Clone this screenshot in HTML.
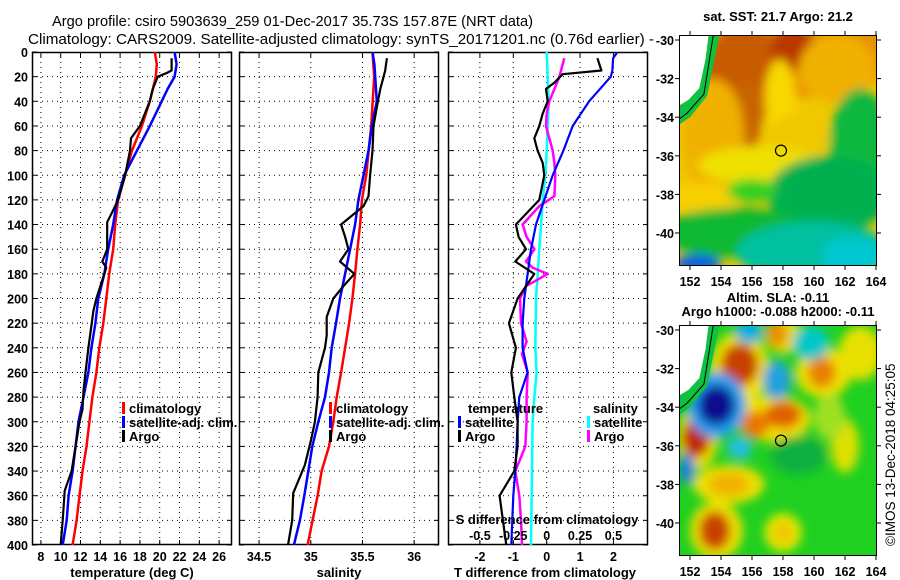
<!DOCTYPE html>
<html><head><meta charset="utf-8"><style>
html,body{margin:0;padding:0;background:#fff;}
svg{display:block;font-family:"Liberation Sans",Arial,sans-serif;}
.tk{font-size:12.5px;font-weight:bold;fill:#000;}
.ttl{font-size:13px;font-weight:bold;fill:#000;}
.hd{font-size:14.5px;fill:#000;}
</style></head><body>
<svg id="fig" width="900" height="580" viewBox="0 0 900 580" xmlns="http://www.w3.org/2000/svg">
<defs>
<clipPath id="c1"><rect x="32" y="52" width="200" height="493"/></clipPath>
<clipPath id="c2"><rect x="239" y="52" width="200" height="493"/></clipPath>
<clipPath id="c3"><rect x="448" y="52" width="200" height="493"/></clipPath>
<clipPath id="cm1"><rect x="679" y="35" width="198" height="231"/></clipPath>
<clipPath id="cm2"><rect x="679" y="325" width="198" height="231"/></clipPath>
<filter id="bl" x="-50%" y="-50%" width="200%" height="200%"><feGaussianBlur stdDeviation="5"/></filter>
</defs>
<text class="hd" x="52" y="26" textLength="481" lengthAdjust="spacingAndGlyphs">Argo profile: csiro 5903639_259 01-Dec-2017 35.73S 157.87E (NRT data)</text>
<text class="hd" x="28" y="44" textLength="626" lengthAdjust="spacingAndGlyphs">Climatology: CARS2009. Satellite-adjusted climatology: synTS_20171201.nc (0.76d earlier) -</text>
<g id="g1"></g>
<g id="g2"></g>
<g id="g3"></g>
<g id="m1"></g>
<g id="m2"></g>
<text transform="translate(895,546) rotate(-90)" font-size="13.5" fill="#000">©IMOS 13-Dec-2018 04:25:05</text>
</svg>
<script>
// ---- data ----
const depthTicks=[0,20,40,60,80,100,120,140,160,180,200,220,240,260,280,300,320,340,360,380,400];
const tempTicks=[8,10,12,14,16,18,20,22,24,26];
const salTicks=[34.5,35,35.5,36];
const salTickLabels=["34.5","35","35.5","36"];
const tdiffTicks=[-2,-1,0,1,2];
const sdiffTicks=[-0.5,-0.25,0,0.25,0.5];
const sdiffTickLabels=["-0.5","-0.25","0","0.25","0.5"];

const tClimDepth=[0,10,20,40,60,80,100,120,140,160,180,200,220,240,260,280,300,320,340,360,380,400];
const tClim=[19.5,19.7,19.6,19.0,18.2,17.2,16.5,15.8,15.5,15.3,14.9,14.6,14.3,13.9,13.6,13.2,12.9,12.6,12.2,11.9,11.6,11.2];
const tSatDepth=[0,10,20,30,40,60,80,100,120,140,160,180,200,220,240,260,280,300,320,340,360,380,400];
const tSat=[21.5,21.7,21.5,20.8,20.2,19.0,17.7,16.4,15.7,15.3,14.8,14.4,13.8,13.5,13.1,12.8,12.3,11.8,11.5,11.2,10.8,10.6,10.2];
const tArgoDepth=[5,15,17,20,30,40,60,70,80,100,120,130,138,160,170,175,200,210,240,260,275,290,300,340,356,380,400];
const tArgo=[21.2,21.2,20.7,19.8,19.3,19.0,18.0,17.1,17.0,16.5,15.8,15.2,14.7,14.7,14.2,14.6,13.6,13.3,12.8,12.5,12.3,12.2,11.9,11.1,10.4,10.2,10.0];

const sClimDepth=[0,20,60,100,120,140,160,180,200,220,240,260,280,300,320,340,360,380,400];
const sClim=[35.597,35.613,35.584,35.536,35.494,35.477,35.451,35.429,35.403,35.371,35.332,35.293,35.251,35.218,35.176,35.105,35.066,35.018,34.969];
const sSatDepth=[0,10,20,40,60,80,100,120,140,160,180,200,220,240,260,280,300,320,340,360,380,400];
const sSat=[35.597,35.615,35.623,35.639,35.591,35.558,35.51,35.461,35.429,35.38,35.332,35.283,35.244,35.202,35.176,35.138,35.073,35.015,34.976,34.937,34.895,34.837];
const sArgoDepth=[5,15,20,30,40,60,80,100,117,125,140,150,160,170,180,190,200,215,230,240,260,280,300,315,335,358,380,400];
const sArgo=[35.736,35.72,35.704,35.672,35.649,35.607,35.597,35.574,35.558,35.51,35.293,35.332,35.364,35.283,35.422,35.316,35.218,35.154,35.154,35.138,35.073,35.066,35.04,35.002,34.943,34.83,34.82,34.78];

const dTSatDepth=[0,5,15,20,40,60,80,100,120,140,160,180,200,220,240,260,280,300,320,340,360,380,400];
const dTSat=[2.12,1.99,1.97,1.92,1.27,0.78,0.5,0.18,-0.07,-0.32,-0.47,-0.57,-0.67,-0.72,-0.72,-0.57,-0.82,-0.87,-0.9,-0.94,-1.0,-1.03,-1.06];
const dTArgoDepth=[5,15,18,25,30,40,50,60,70,80,90,100,120,140,150,160,170,180,200,220,240,260,280,300,320,340,360,380,400];
const dTArgo=[1.52,1.64,0.48,0.23,-0.02,0.03,-0.12,-0.22,-0.37,-0.27,-0.12,-0.07,-0.22,-0.92,-0.84,-0.62,-0.94,-0.37,-0.87,-1.13,-0.92,-1.06,-0.97,-0.87,-0.87,-0.97,-1.41,-1.31,-1.21];
const dSSatDepth=[0,20,40,60,80,100,120,140,160,180,200,240,260,280,300,340,400];
const dSSat=[0,0.008,0.015,0.008,0,-0.01,-0.03,-0.042,-0.055,-0.067,-0.08,-0.085,-0.075,-0.092,-0.105,-0.11,-0.117];
const dSArgoDepth=[5,20,30,40,50,60,70,80,90,100,117,125,140,150,160,170,175,180,190,200,220,235,245,260,280,300,320,340,360,380,400];
const dSArgo=[0.132,0.095,0.058,0.02,0,-0.005,0.02,0.045,0.058,0.065,0.058,-0.055,-0.18,-0.15,-0.092,-0.155,-0.105,0.008,-0.155,-0.2,-0.192,-0.15,-0.185,-0.142,-0.15,-0.15,-0.16,-0.235,-0.205,-0.192,-0.185];

// ---- helpers ----
const NS="http://www.w3.org/2000/svg";
function mk(parent,tag,attrs,txt){const e=document.createElementNS(NS,tag);for(const k in attrs)e.setAttribute(k,attrs[k]);if(txt!==undefined)e.textContent=txt;parent.appendChild(e);return e;}
const Y0=52,Y1=545;
function yD(d){return Y0+(d/400)*(Y1-Y0);}
function lin(d0,d1,r0,r1){return v=>r0+(v-d0)/(d1-d0)*(r1-r0);}

function panel(g,x0,xs,xticks,xlabels,yLabels){
  const x1=x0+200;
  depthTicks.forEach(d=>{if(d>0&&d<400){const l=mk(g,'line',{x1:x0,x2:x1,y1:yD(d),y2:yD(d),stroke:'#000','stroke-dasharray':'1,4','stroke-width':1});
    }
    mk(g,'line',{x1:x0,x2:x0+5,y1:yD(d),y2:yD(d),stroke:'#000'});mk(g,'line',{x1:x1-5,x2:x1,y1:yD(d),y2:yD(d),stroke:'#000'});
    if(yLabels){const t=mk(g,'text',{class:'tk',x:28,y:yD(d)+5,'text-anchor':'end'},String(d));
      }});
  xticks.forEach((v,i)=>{const x=xs(v);
    const l=mk(g,'line',{x1:x,x2:x,y1:Y0,y2:Y1,stroke:'#000','stroke-dasharray':'1,4','stroke-width':1});
    
    mk(g,'line',{x1:x,x2:x,y1:Y0,y2:Y0+5,stroke:'#000'});mk(g,'line',{x1:x,x2:x,y1:Y1-5,y2:Y1,stroke:'#000'});
    if(xlabels){const t=mk(g,'text',{class:'tk',x:x,y:561,'text-anchor':'middle'},xlabels[i]);
      }});
  const r=mk(g,'rect',{x:x0+0.5,y:Y0+0.5,width:199,height:Y1-Y0-1,fill:'none',stroke:'#000','stroke-width':1.5});
  
}
function series(g,depths,vals,xs,color,w,clip,name){
  const pts=depths.map((d,i)=>xs(vals[i]).toFixed(1)+','+yD(d).toFixed(1)).join(' ');
  const p=mk(g,'polyline',{points:pts,fill:'none',stroke:color,'stroke-width':w,'clip-path':'url(#'+clip+')','stroke-linejoin':'round'});
  
}
function legend(g,x,y,color,label,name){
  mk(g,'rect',{x:x,y:y-11,width:3,height:12,fill:color});
  const t=mk(g,'text',{class:'ttl',x:x+7,y:y},label);
  
}

const g1=document.getElementById('g1');
const xT=lin(7.1,27.3,32,232);
panel(g1,32,xT,tempTicks,tempTicks.map(String),true);
series(g1,tClimDepth,tClim,xT,'#ff0000',2.5,'c1','temp-climatology-line');
series(g1,tSatDepth,tSat,xT,'#0000ff',2.5,'c1','temp-satellite-line');
series(g1,tArgoDepth,tArgo,xT,'#000',2.2,'c1','temp-argo-line');
legend(g1,122,413,'#ff0000','climatology','legend-climatology');
legend(g1,122,427,'#0000ff','satellite-adj. clim.','legend-satellite');
legend(g1,122,441,'#000','Argo','legend-argo');
let t=mk(g1,'text',{class:'ttl',x:132,y:577,'text-anchor':'middle'},'temperature (deg C)');


const g2=document.getElementById('g2');
const xS=lin(34.306,36.24,239,439);
panel(g2,239,xS,salTicks,salTickLabels,false);
series(g2,sClimDepth,sClim,xS,'#ff0000',2.5,'c2','sal-climatology-line');
series(g2,sSatDepth,sSat,xS,'#0000ff',2.5,'c2','sal-satellite-line');
series(g2,sArgoDepth,sArgo,xS,'#000',2.2,'c2','sal-argo-line');
legend(g2,329,413,'#ff0000','climatology','legend-climatology');
legend(g2,329,427,'#0000ff','satellite-adj. clim.','legend-satellite');
legend(g2,329,441,'#000','Argo','legend-argo');
t=mk(g2,'text',{class:'ttl',x:339,y:577,'text-anchor':'middle'},'salinity');


const g3=document.getElementById('g3');
const xD=lin(-2.955,3.035,448,648);
const xSD=v=>xD(v*4);
panel(g3,448,xD,tdiffTicks,tdiffTicks.map(String),false);
series(g3,dSSatDepth,dSSat,xSD,'#00ffff',2.5,'c3','sdiff-satellite-line');
series(g3,dSArgoDepth,dSArgo,xSD,'#ff00ff',2.5,'c3','sdiff-argo-line');
series(g3,dTSatDepth,dTSat,xD,'#0000ff',2.2,'c3','tdiff-satellite-line');
series(g3,dTArgoDepth,dTArgo,xD,'#000',2.2,'c3','tdiff-argo-line');
t=mk(g3,'text',{class:'ttl',x:468,y:413},'temperature');
t=mk(g3,'text',{class:'ttl',x:593,y:413},'salinity');
legend(g3,458,427,'#0000ff','satellite','legend-t-satellite');
legend(g3,458,441,'#000','Argo','legend-t-argo');
legend(g3,587,427,'#00ffff','satellite','legend-s-satellite');
legend(g3,587,441,'#ff00ff','Argo','legend-s-argo');
t=mk(g3,'text',{class:'ttl',x:547,y:524,'text-anchor':'middle'},'S difference from climatology');

sdiffTicks.forEach((v,i)=>{const e=mk(g3,'text',{class:'tk',x:xSD(v),y:540,'text-anchor':'middle'},sdiffTickLabels[i]);
  });
t=mk(g3,'text',{class:'ttl',x:545,y:577,'text-anchor':'middle'},'T difference from climatology');


// ---- maps ----
const lonTicks=[152,154,156,158,160,162,164];
const latTicks=[-30,-32,-34,-36,-38,-40];
const floatLon=157.87, floatLat=-35.73;
function mapAxes(g,top,clip,blobs,base,title1,title2){
  const X=lon=>690+(lon-152)*15.5, Y=lat=>top+5+(-30-lat)*19.3;
  const h=231;
  mk(g,'rect',{x:679,y:top,width:198,height:h,fill:base,'clip-path':'url(#'+clip+')'});
  const bg=mk(g,'g',{'clip-path':'url(#'+clip+')'});
  const bb=mk(bg,'g',{filter:'url(#bl)'});
  blobs.forEach(b=>{mk(bb,'ellipse',{cx:X(b[0]),cy:Y(b[1]),rx:b[2]*15.5,ry:b[3]*19.3,fill:b[4]});});
  mk(bg,'path',{d:`M${X(153.9)},${top} L${X(153.5)},${Y(-31.3)} L${X(153.1)},${Y(-32.9)} L${X(152.0)},${Y(-34)} L679,${Y(-34.4)} L679,${top} Z`,fill:'#10c040'});
  const land=mk(bg,'path',{d:`M679,${top} L${X(153.2)},${top} L${X(153.0)},${Y(-31)} L${X(152.6)},${Y(-32.5)} L${X(151.9)},${Y(-33.1)} L679,${Y(-33.4)} Z`,fill:'#fff'});
  
  mk(bg,'path',{d:`M${X(153.5)},${top} L${X(153.2)},${Y(-31.3)} L${X(152.9)},${Y(-32.8)} L${X(151.8)},${Y(-33.8)} L679,${Y(-34.1)}`,fill:'none',stroke:'#000','stroke-width':1});
  const c=mk(g,'circle',{cx:X(floatLon),cy:Y(floatLat),r:5.5,fill:'none',stroke:'#000','stroke-width':1.2});
  
  mk(g,'rect',{x:679.5,y:top+0.5,width:197,height:h-1,fill:'none',stroke:'#000','stroke-width':1});
  lonTicks.forEach(l=>{mk(g,'line',{x1:X(l),x2:X(l),y1:top,y2:top-4,stroke:'#000'});mk(g,'line',{x1:X(l),x2:X(l),y1:top+h,y2:top+h+4,stroke:'#000'});
    const e=mk(g,'text',{class:'tk',x:X(l),y:top+h+20,'text-anchor':'middle','font-size':14},String(l));
    });
  latTicks.forEach(l=>{mk(g,'line',{x1:675,x2:679,y1:Y(l),y2:Y(l),stroke:'#000'});mk(g,'line',{x1:877,x2:881,y1:Y(l),y2:Y(l),stroke:'#000'});
    const e=mk(g,'text',{class:'tk',x:674,y:Y(l)+5,'text-anchor':'end','font-size':14},String(l));
    });
  let e=mk(g,'text',{class:'ttl',x:778,y:title2?top-23:top-14,'text-anchor':'middle'},title1);
  
  if(title2){e=mk(g,'text',{class:'ttl',x:778,y:top-9,'text-anchor':'middle'},title2);
    }
}
const sstBlobs=[
 [158,-30.5,8,2.5,'#e89000'],[155.5,-31.8,2.6,2.6,'#c85a00'],[158.6,-30.4,1.4,1.2,'#b83800'],[155.6,-34,1,2,'#c86400'],
 [161.5,-31.5,2.5,1.8,'#f0b000'],[157.8,-33,1,2,'#f8d800'],[153.5,-35,2,3,'#f0b000'],[159,-35,2,1.2,'#f0c800'],
 [156.5,-36.5,4,1,'#f0e000'],[153,-38.2,2,0.8,'#f8d000'],[163,-35.5,2,3,'#10b840'],[161,-38,4,2,'#00b050'],
 [156,-37.8,1.6,0.6,'#30d020'],[155,-40,5,1.3,'#10b830'],[160,-41,5,1.6,'#00c0a0'],[162.5,-41.2,2,1,'#00c8d0'],[152.5,-41.6,1.5,0.5,'#1060e0']
];
const slaBlobs=[
 [155.2,-32,1.9,1.9,'#f0e000'],[152.5,-35.6,1.3,1.6,'#f0e000'],[157.4,-34.6,2.4,1.2,'#f0e000'],[160.6,-32.2,1.8,1.3,'#f0e000'],
 [158,-30.3,1.2,0.9,'#f0e000'],[163,-31.2,1.4,1.4,'#e8e000'],[153.7,-40.4,1.7,1.5,'#f0e000'],[154.5,-38,2.3,1,'#f0e000'],
 [158,-40.5,1.2,1,'#e8e800'],[162,-36,0.9,1.4,'#e0e000'],[161,-34.5,1,1.2,'#a0e020'],
 [155.2,-31.8,1.2,1.1,'#c84000'],[152.4,-35.6,0.9,1.0,'#c02800'],[153.7,-33.9,1.9,1.7,'#20a0f0'],[153.7,-33.9,1.2,1.05,'#0a0a90'],
 [158,-34.4,1.2,0.7,'#e06000'],[156.2,-34.9,0.9,0.7,'#e87800'],[157.6,-32.6,0.9,1,'#20a0e0'],[159.8,-30.7,1.2,0.9,'#00c8c8'],[155.8,-30.1,0.9,0.6,'#00b0e0'],
 [155.2,-36.1,0.8,0.6,'#20c0e0'],[160.5,-32.2,0.9,0.8,'#e88000'],[157.6,-30.2,0.7,0.7,'#e89000'],[153.6,-40.4,1,1,'#c84000'],[154.5,-38,1.3,0.6,'#f0b000'],
 [158,-40.5,0.7,0.6,'#f0c800'],[159,-36.5,1.8,1.0,'#10b040'],[151.8,-37.2,0.5,0.8,'#1080e0']
];
mapAxes(document.getElementById('m1'),35,'cm1',sstBlobs,'#f0c800','sat. SST: 21.7 Argo: 21.2',null);
mapAxes(document.getElementById('m2'),325,'cm2',slaBlobs,'#20d020','Altim. SLA: -0.11','Argo h1000: -0.088 h2000: -0.11');
</script>
</body></html>
